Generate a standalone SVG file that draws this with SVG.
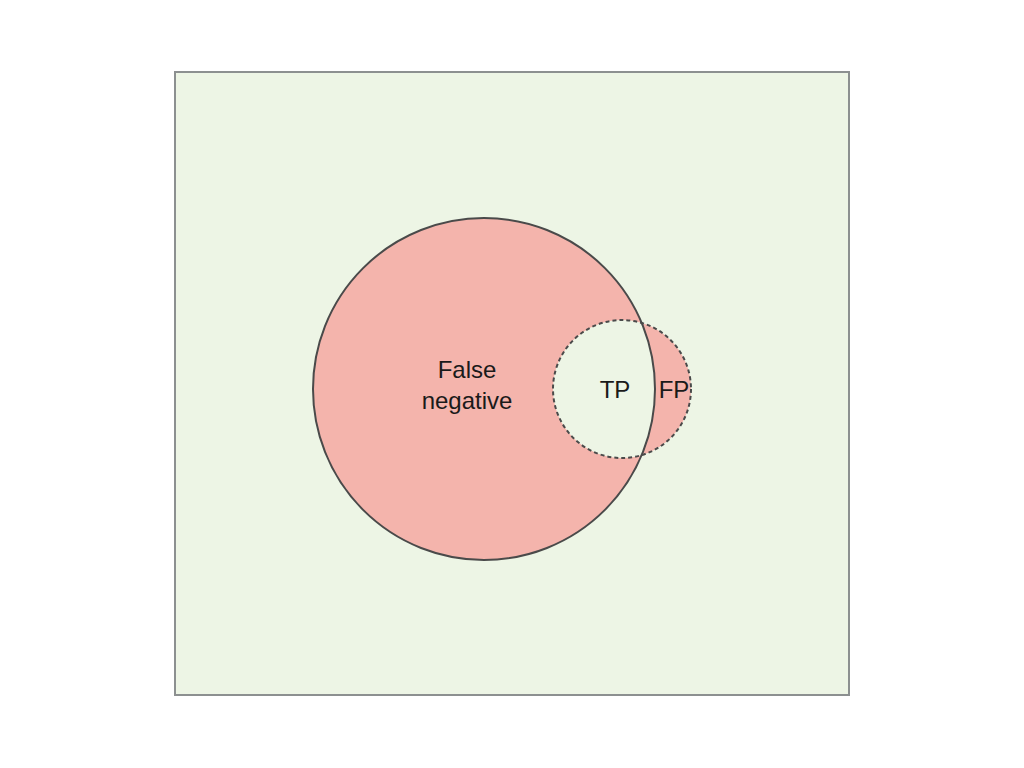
<svg xmlns="http://www.w3.org/2000/svg" width="1024" height="768" viewBox="0 0 1024 768">
<style>
.t{font-family:"Liberation Sans",Arial,sans-serif;font-size:24px;fill:#1a1a1a;text-anchor:middle}
</style>
<defs>
<clipPath id="bigclip"><circle cx="484" cy="389" r="171"/></clipPath>
</defs>
<rect width="1024" height="768" fill="#ffffff"/>
<g id="universe">
<rect x="175" y="72" width="674" height="623" fill="#EDF5E5" stroke="#8C9090" stroke-width="2"/>
</g>
<g id="actual">
<circle cx="484" cy="389" r="171" fill="#F4B4AC"/>
</g>
<g id="predicted">
<circle cx="622" cy="389" r="69" fill="#F4B4AC"/>
<circle cx="622" cy="389" r="69" fill="#EDF5E5" clip-path="url(#bigclip)"/>
</g>
<g id="outlines">
<circle cx="484" cy="389" r="171" fill="none" stroke="#4a4a4a" stroke-width="2"/>
<circle cx="622" cy="389" r="69" fill="none" stroke="#4a4a4a" stroke-width="2" stroke-dasharray="4 3"/>
</g>
<g id="labels">
<text class="t" x="467" y="378">False</text>
<text class="t" x="467" y="409">negative</text>
<text class="t" x="615" y="398">TP</text>
<text class="t" x="674" y="398">FP</text>
</g>
</svg>
